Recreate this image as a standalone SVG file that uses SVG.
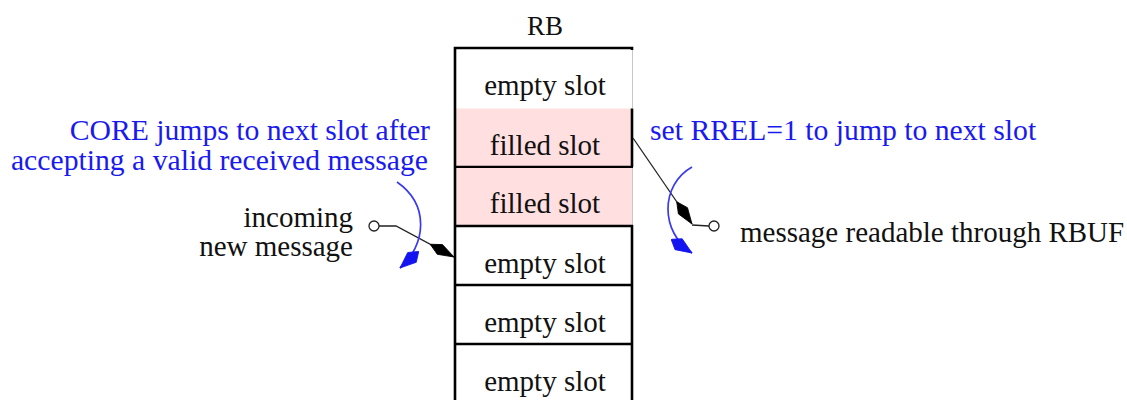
<svg xmlns="http://www.w3.org/2000/svg" width="1127" height="400" viewBox="0 0 1127 400">
  <style>
    .lbl { font-family: "Liberation Serif", "Times New Roman", serif; font-size: 29px; fill: #111; }
    .note { font-family: "Liberation Serif", "Times New Roman", serif; font-size: 29.7px; fill: #1a1aee; }
    .mid { text-anchor: middle; }
    .end { text-anchor: end; }
    .edge { stroke: #000; stroke-width: 2.6; fill: none; }
    .faint { stroke: #c8c8c8; stroke-width: 1; fill: none; }
    .filled { fill: #ffdfdf; stroke: none; }
    .wire { stroke: #222; stroke-width: 1.3; fill: none; }
    .turn { stroke: #3a3af0; stroke-width: 1.7; fill: none; }
    .port { fill: #fff; stroke: #222; stroke-width: 1.3; }
  </style>
  <defs>
    <marker id="kite-black" markerUnits="userSpaceOnUse" viewBox="0 0 28 14" refX="27" refY="7" markerWidth="28" markerHeight="14" orient="auto">
      <path d="M0,7 L11,1.5 L27,7 L11,12.5 Z" fill="#000" stroke="#000" stroke-width="0.8" stroke-linejoin="round"/>
    </marker>
    <marker id="kite-blue" markerUnits="userSpaceOnUse" viewBox="0 0 26 16" refX="25" refY="8" markerWidth="26" markerHeight="16" orient="auto">
      <path d="M0,8 L9,1.5 L25,8 L9,14.5 Z" fill="#1414f0" stroke="#1414f0" stroke-width="0.8" stroke-linejoin="round"/>
    </marker>
  </defs>

  <rect width="1127" height="400" fill="#fff"/>

  <!-- receive buffer title -->
  <text class="lbl mid" x="545" y="35" style="font-size:27px">RB</text>

  <!-- buffer slots -->
  <g id="slot-1">
    <line class="faint" x1="632.5" y1="48" x2="632.5" y2="108"/>
    <text class="lbl mid" x="545" y="95">empty slot</text>
  </g>
  <g id="slot-2">
    <rect class="filled" x="455" y="108.5" width="177" height="58"/>
    <line class="edge" x1="632" y1="108.5" x2="632" y2="167"/>
    <line class="edge" x1="455" y1="167" x2="633" y2="167"/>
    <text class="lbl mid" x="545" y="155">filled slot</text>
  </g>
  <g id="slot-3">
    <rect class="filled" x="455" y="168" width="177" height="57"/>
    <line class="faint" x1="632.5" y1="168" x2="632.5" y2="225"/>
    <text class="lbl mid" x="545" y="213">filled slot</text>
  </g>
  <g id="slot-4">
    <line class="edge" x1="455" y1="226" x2="633" y2="226"/>
    <text class="lbl mid" x="545" y="273">empty slot</text>
  </g>
  <g id="slot-5">
    <line class="edge" x1="455" y1="285" x2="633" y2="285"/>
    <text class="lbl mid" x="545" y="332">empty slot</text>
  </g>
  <g id="slot-6">
    <line class="edge" x1="455" y1="344" x2="633" y2="344"/>
    <text class="lbl mid" x="545" y="391">empty slot</text>
  </g>
  <!-- buffer outline -->
  <g id="buffer-outline">
    <path class="edge" d="M455,402 L455,48 L632,48 L632,50"/>
    <line class="edge" x1="632" y1="225" x2="632" y2="402"/>
  </g>

  <!-- annotations -->
  <g id="core-note">
    <text class="note end" x="430" y="140">CORE jumps to next slot after</text>
    <text class="note end" x="428" y="170">accepting a valid received message</text>
  </g>
  <g id="rrel-note">
    <text class="note" x="650" y="140">set RREL=1 to jump to next slot</text>
  </g>
  <g id="incoming">
    <text class="lbl end" x="353" y="227">incoming</text>
    <text class="lbl end" x="353" y="256">new message</text>
    <circle class="port" cx="374" cy="226" r="5"/>
  </g>
  <g id="readable">
    <text class="lbl" x="740" y="242">message readable through RBUF</text>
    <circle class="port" cx="714" cy="226" r="5"/>
  </g>

  <!-- connectors -->
  <g id="connectors">
    <path class="wire" d="M379,226 L396,226 L454,257" marker-end="url(#kite-black)"/>
    <path class="wire" d="M633,138 L692,224" marker-end="url(#kite-black)"/>
    <path class="wire" d="M692,225 L709,226"/>
    <path class="turn" d="M397,182 C430,205 426,245 400,268" marker-end="url(#kite-blue)"/>
    <path class="turn" d="M692,167 C660,185 660,232 692,253" marker-end="url(#kite-blue)"/>
  </g>
</svg>
